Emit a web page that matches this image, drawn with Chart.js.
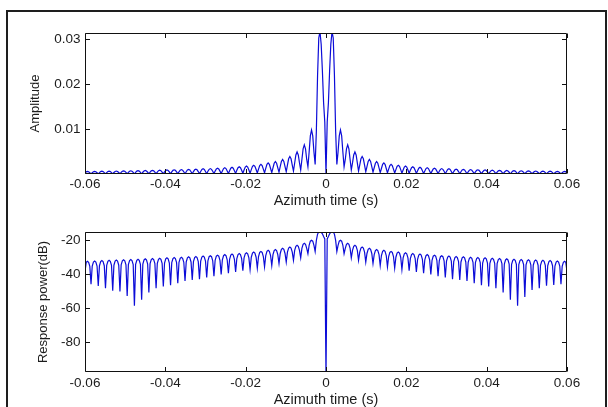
<!DOCTYPE html>
<html><head><meta charset="utf-8">
<script src="https://cdn.jsdelivr.net/npm/chart.js@4.4.1/dist/chart.umd.min.js"></script>
<style>
html,body{margin:0;padding:0;background:#fff;width:608px;height:407px;overflow:hidden;}
#frame{position:absolute;left:6px;top:10px;width:601px;height:420px;border:2px solid #1e1e1e;box-sizing:border-box;}
canvas{position:absolute;left:0;}
#c1{top:0px;}
#c2{top:210px;}
</style></head><body>
<div id="frame"></div>
<canvas id="c1" width="608" height="210"></canvas>
<canvas id="c2" width="608" height="200"></canvas>
<script>
// Azimuth time samples (s)
const azimuthTime = [
-0.0600,-0.0597,-0.0594,-0.0591,-0.0588,-0.0585,-0.0582,-0.0579,-0.0576,-0.0573,
-0.0570,-0.0567,-0.0564,-0.0561,-0.0558,-0.0555,-0.0552,-0.0549,-0.0546,-0.0543,
-0.0540,-0.0537,-0.0534,-0.0531,-0.0528,-0.0525,-0.0522,-0.0519,-0.0516,-0.0513,
-0.0510,-0.0507,-0.0504,-0.0501,-0.0498,-0.0495,-0.0492,-0.0489,-0.0486,-0.0483,
-0.0480,-0.0477,-0.0474,-0.0471,-0.0468,-0.0465,-0.0462,-0.0459,-0.0456,-0.0453,
-0.0450,-0.0447,-0.0444,-0.0441,-0.0438,-0.0435,-0.0432,-0.0429,-0.0426,-0.0423,
-0.0420,-0.0417,-0.0414,-0.0411,-0.0408,-0.0405,-0.0402,-0.0399,-0.0396,-0.0393,
-0.0390,-0.0387,-0.0384,-0.0381,-0.0378,-0.0375,-0.0372,-0.0369,-0.0366,-0.0363,
-0.0360,-0.0357,-0.0354,-0.0351,-0.0348,-0.0345,-0.0342,-0.0339,-0.0336,-0.0333,
-0.0330,-0.0327,-0.0324,-0.0321,-0.0318,-0.0315,-0.0312,-0.0309,-0.0306,-0.0303,
-0.0300,-0.0297,-0.0294,-0.0291,-0.0288,-0.0285,-0.0282,-0.0279,-0.0276,-0.0273,
-0.0270,-0.0267,-0.0264,-0.0261,-0.0258,-0.0255,-0.0252,-0.0249,-0.0246,-0.0243,
-0.0240,-0.0237,-0.0234,-0.0231,-0.0228,-0.0225,-0.0222,-0.0219,-0.0216,-0.0213,
-0.0210,-0.0207,-0.0204,-0.0201,-0.0198,-0.0195,-0.0192,-0.0189,-0.0186,-0.0183,
-0.0180,-0.0177,-0.0174,-0.0171,-0.0168,-0.0165,-0.0162,-0.0159,-0.0156,-0.0153,
-0.0150,-0.0147,-0.0144,-0.0141,-0.0138,-0.0135,-0.0132,-0.0129,-0.0126,-0.0123,
-0.0120,-0.0117,-0.0114,-0.0111,-0.0108,-0.0105,-0.0102,-0.0099,-0.0096,-0.0093,
-0.0090,-0.0087,-0.0084,-0.0081,-0.0078,-0.0075,-0.0072,-0.0069,-0.0066,-0.0063,
-0.0060,-0.0057,-0.0054,-0.0051,-0.0048,-0.0045,-0.0042,-0.0039,-0.0036,-0.0033,
-0.0030,-0.0027,-0.0024,-0.0021,-0.0018,-0.0015,-0.0012,-0.0009,-0.0006,-0.0003,
0.0000,0.0003,0.0006,0.0009,0.0012,0.0015,0.0018,0.0021,0.0024,0.0027,
0.0030,0.0033,0.0036,0.0039,0.0042,0.0045,0.0048,0.0051,0.0054,0.0057,
0.0060,0.0063,0.0066,0.0069,0.0072,0.0075,0.0078,0.0081,0.0084,0.0087,
0.0090,0.0093,0.0096,0.0099,0.0102,0.0105,0.0108,0.0111,0.0114,0.0117,
0.0120,0.0123,0.0126,0.0129,0.0132,0.0135,0.0138,0.0141,0.0144,0.0147,
0.0150,0.0153,0.0156,0.0159,0.0162,0.0165,0.0168,0.0171,0.0174,0.0177,
0.0180,0.0183,0.0186,0.0189,0.0192,0.0195,0.0198,0.0201,0.0204,0.0207,
0.0210,0.0213,0.0216,0.0219,0.0222,0.0225,0.0228,0.0231,0.0234,0.0237,
0.0240,0.0243,0.0246,0.0249,0.0252,0.0255,0.0258,0.0261,0.0264,0.0267,
0.0270,0.0273,0.0276,0.0279,0.0282,0.0285,0.0288,0.0291,0.0294,0.0297,
0.0300,0.0303,0.0306,0.0309,0.0312,0.0315,0.0318,0.0321,0.0324,0.0327,
0.0330,0.0333,0.0336,0.0339,0.0342,0.0345,0.0348,0.0351,0.0354,0.0357,
0.0360,0.0363,0.0366,0.0369,0.0372,0.0375,0.0378,0.0381,0.0384,0.0387,
0.0390,0.0393,0.0396,0.0399,0.0402,0.0405,0.0408,0.0411,0.0414,0.0417,
0.0420,0.0423,0.0426,0.0429,0.0432,0.0435,0.0438,0.0441,0.0444,0.0447,
0.0450,0.0453,0.0456,0.0459,0.0462,0.0465,0.0468,0.0471,0.0474,0.0477,
0.0480,0.0483,0.0486,0.0489,0.0492,0.0495,0.0498,0.0501,0.0504,0.0507,
0.0510,0.0513,0.0516,0.0519,0.0522,0.0525,0.0528,0.0531,0.0534,0.0537,
0.0540,0.0543,0.0546,0.0549,0.0552,0.0555,0.0558,0.0561,0.0564,0.0567,
0.0570,0.0573,0.0576,0.0579,0.0582,0.0585,0.0588,0.0591,0.0594,0.0597,
0.0600
];

// Top panel: amplitude
const amplitude = [
0.00014,0.00049,0.00056,0.00049,0.00028,
0.000025,
0.00029,0.00051,0.00059,0.00051,0.00029,0.00002,
0.00031,0.00053,0.00062,0.00053,0.00031,0.000015,
0.00032,0.00056,0.00065,0.00056,0.00032,0.00001,
0.00033,0.00057,0.00066,0.00057,0.00033,0.00001,
0.00035,0.00060,0.00069,0.00060,0.00035,0.000005,
0.00035,0.00061,0.00071,0.00061,0.00035,0.0000014,
0.00037,0.00064,0.00074,0.00064,0.00037,0.000003,
0.00039,0.00067,0.00078,0.00067,0.00039,0.000008,
0.00041,0.00070,0.00081,0.00070,0.00041,0.000015,
0.00043,0.00074,0.00085,0.00074,0.00043,0.000019,
0.00045,0.00077,0.00089,0.00077,0.00045,0.000022,
0.00047,0.00081,0.00093,0.00081,0.00047,0.000029,
0.00049,0.00085,0.00098,0.00085,0.00049,0.00004,
0.00051,0.00089,0.00102,0.00089,0.00051,0.000045,
0.00054,0.00093,0.00107,0.00093,0.00054,0.00005,
0.00057,0.00099,0.00115,0.00099,0.00057,0.000063,
0.00060,0.00104,0.00120,0.00104,0.00060,0.000076,
0.00064,0.00112,0.00129,0.00112,0.00064,0.000095,
0.00069,0.00120,0.00138,0.00120,0.00069,0.000112,
0.00074,0.00128,0.00148,0.00128,0.00074,0.000135,
0.00081,0.00140,0.00162,0.00140,0.00081,0.00016,
0.00089,0.00154,0.00178,0.00154,0.00089,0.00019,
0.00098,0.00169,0.00195,0.00169,0.00098,0.00022,
0.00107,0.00185,0.00214,0.00185,0.00107,0.00026,
0.00123,0.00213,0.00246,0.00213,0.00123,0.00032,
0.00138,0.00239,0.00275,0.00239,0.00138,0.00042,
0.00162,0.00280,0.00324,0.00280,0.00162,0.0005,
0.00195,0.00337,0.00389,0.00337,0.00195,0.00065,
0.00245,0.00424,0.00490,0.00424,0.00245,0.0009,
0.00323,0.00559,0.00646,0.00559,0.00323,0.0016,
0.00489,0.00846,0.00977,0.00846,0.00489,0.0021,
0.0095,0.0219,0.0302,0.0316,0.0288,0.0229,0.0158,0.0115,
0,
0.0115,0.0158,0.0229,0.0288,0.0316,0.0302,0.0219,0.0095,
0.0021,0.00489,0.00846,0.00977,0.00846,0.00489,
0.0016,0.00323,0.00559,0.00646,0.00559,0.00323,
0.0009,0.00245,0.00424,0.00490,0.00424,0.00245,
0.00065,0.00195,0.00337,0.00389,0.00337,0.00195,
0.0005,0.00162,0.00280,0.00324,0.00280,0.00162,
0.00042,0.00138,0.00239,0.00275,0.00239,0.00138,
0.00032,0.00123,0.00213,0.00246,0.00213,0.00123,
0.00026,0.00107,0.00185,0.00214,0.00185,0.00107,
0.00022,0.00098,0.00169,0.00195,0.00169,0.00098,
0.00019,0.00089,0.00154,0.00178,0.00154,0.00089,
0.00016,0.00081,0.00140,0.00162,0.00140,0.00081,
0.000135,0.00074,0.00128,0.00148,0.00128,0.00074,
0.000112,0.00069,0.00120,0.00138,0.00120,0.00069,
0.000095,0.00064,0.00112,0.00129,0.00112,0.00064,
0.000076,0.00060,0.00104,0.00120,0.00104,0.00060,
0.000063,0.00057,0.00099,0.00115,0.00099,0.00057,
0.00005,0.00054,0.00093,0.00107,0.00093,0.00054,
0.000045,0.00051,0.00089,0.00102,0.00089,0.00051,
0.00004,0.00049,0.00085,0.00098,0.00085,0.00049,
0.000029,0.00047,0.00081,0.00093,0.00081,0.00047,
0.000022,0.00045,0.00077,0.00089,0.00077,0.00045,
0.000019,0.00043,0.00074,0.00085,0.00074,0.00043,
0.000015,0.00041,0.00070,0.00081,0.00070,0.00041,
0.000008,0.00039,0.00067,0.00078,0.00067,0.00039,
0.000003,0.00037,0.00064,0.00074,0.00064,0.00037,
0.0000014,0.00035,0.00061,0.00071,0.00061,0.00035,
0.0000045,0.00035,0.00060,0.00069,0.00060,0.00035,
0.000012,0.00033,0.00057,0.00066,0.00057,0.00033,
0.000015,0.00032,0.00056,0.00065,0.00056,0.00032,
0.000021,0.00031,0.00053,0.00062,0.00053,0.00031,
0.000023,0.00029,0.00051,0.00059,0.00051,0.00029,
0.000025,0.00028,0.00049,0.00056,0.00049,0.00014
];

// Bottom panel: response power (dB)
const responsePowerDb = [
-38.5,-33.1,-32.5,-33.1,-35.5,
-46.0,
-35.3,-32.9,-32.3,-32.9,-35.3,-47.0,
-35.1,-32.7,-32.1,-32.7,-35.1,-48.3,
-34.9,-32.5,-31.9,-32.5,-34.9,-49.8,
-34.8,-32.4,-31.8,-32.4,-34.8,-50.2,
-34.6,-32.2,-31.6,-32.2,-34.6,-52.8,
-34.5,-32.1,-31.5,-32.1,-34.5,-58.6,
-34.3,-31.9,-31.3,-31.9,-34.3,-55.0,
-34.1,-31.7,-31.1,-31.7,-34.1,-50.8,
-33.9,-31.5,-30.9,-31.5,-33.9,-48.3,
-33.7,-31.3,-30.7,-31.3,-33.7,-47.3,
-33.5,-31.1,-30.5,-31.1,-33.5,-46.5,
-33.3,-30.9,-30.3,-30.9,-33.3,-45.4,
-33.1,-30.7,-30.1,-30.7,-33.1,-44.0,
-32.9,-30.5,-29.9,-30.5,-32.9,-43.5,
-32.7,-30.3,-29.7,-30.3,-32.7,-43.0,
-32.4,-30.0,-29.4,-30.0,-32.4,-42.0,
-32.2,-29.8,-29.2,-29.8,-32.2,-41.2,
-31.9,-29.5,-28.9,-29.5,-31.9,-40.2,
-31.6,-29.2,-28.6,-29.2,-31.6,-39.5,
-31.3,-28.9,-28.3,-28.9,-31.3,-38.7,
-30.9,-28.5,-27.9,-28.5,-30.9,-38.0,
-30.5,-28.1,-27.5,-28.1,-30.5,-37.3,
-30.1,-27.7,-27.1,-27.7,-30.1,-36.5,
-29.7,-27.3,-26.7,-27.3,-29.7,-35.8,
-29.1,-26.7,-26.1,-26.7,-29.1,-35.0,
-28.6,-26.2,-25.6,-26.2,-28.6,-33.8,
-27.9,-25.5,-24.9,-25.5,-27.9,-33.0,
-27.1,-24.7,-24.1,-24.7,-27.1,-31.9,
-26.1,-23.7,-23.1,-23.7,-26.1,-30.5,
-24.9,-22.5,-21.9,-22.5,-24.9,-28.0,
-23.1,-20.7,-20.1,-20.7,-23.1,-26.7,
-20.2,-16.6,-15.2,-15.0,-15.4,-16.4,-18.0,-19.4,
-100.0,
-19.4,-18.0,-16.4,-15.4,-15.0,-15.2,-16.6,-20.2,
-26.7,-23.1,-20.7,-20.1,-20.7,-23.1,
-28.0,-24.9,-22.5,-21.9,-22.5,-24.9,
-30.5,-26.1,-23.7,-23.1,-23.7,-26.1,
-31.9,-27.1,-24.7,-24.1,-24.7,-27.1,
-33.0,-27.9,-25.5,-24.9,-25.5,-27.9,
-33.8,-28.6,-26.2,-25.6,-26.2,-28.6,
-35.0,-29.1,-26.7,-26.1,-26.7,-29.1,
-35.8,-29.7,-27.3,-26.7,-27.3,-29.7,
-36.5,-30.1,-27.7,-27.1,-27.7,-30.1,
-37.3,-30.5,-28.1,-27.5,-28.1,-30.5,
-38.0,-30.9,-28.5,-27.9,-28.5,-30.9,
-38.7,-31.3,-28.9,-28.3,-28.9,-31.3,
-39.5,-31.6,-29.2,-28.6,-29.2,-31.6,
-40.2,-31.9,-29.5,-28.9,-29.5,-31.9,
-41.2,-32.2,-29.8,-29.2,-29.8,-32.2,
-42.0,-32.4,-30.0,-29.4,-30.0,-32.4,
-43.0,-32.7,-30.3,-29.7,-30.3,-32.7,
-43.5,-32.9,-30.5,-29.9,-30.5,-32.9,
-44.0,-33.1,-30.7,-30.1,-30.7,-33.1,
-45.4,-33.3,-30.9,-30.3,-30.9,-33.3,
-46.5,-33.5,-31.1,-30.5,-31.1,-33.5,
-47.3,-33.7,-31.3,-30.7,-31.3,-33.7,
-48.3,-33.9,-31.5,-30.9,-31.5,-33.9,
-50.8,-34.1,-31.7,-31.1,-31.7,-34.1,
-55.0,-34.3,-31.9,-31.3,-31.9,-34.3,
-58.6,-34.5,-32.1,-31.5,-32.1,-34.5,
-53.5,-34.6,-32.2,-31.6,-32.2,-34.6,
-49.3,-34.8,-32.4,-31.8,-32.4,-34.8,
-48.3,-34.9,-32.5,-31.9,-32.5,-34.9,
-46.8,-35.1,-32.7,-32.1,-32.7,-35.1,
-46.4,-35.3,-32.9,-32.3,-32.9,-35.3,
-46.0,-35.5,-33.1,-32.5,-33.1,-38.5
];

// Tick values and labels
const xTickValues = [-0.06, -0.04, -0.02, 0, 0.02, 0.04, 0.06];
const xTickLabels = ['-0.06', '-0.04', '-0.02', '0', '0.02', '0.04', '0.06'];
const ampTickValues = [0.01, 0.02, 0.03];
const ampTickLabels = ['0.01', '0.02', '0.03'];
const dbTickValues = [-80, -60, -40, -20];
const dbTickLabels = ['-80', '-60', '-40', '-20'];

const FONT = '"Liberation Sans", Arial, Helvetica, sans-serif';
const TXT = '#1c1c1c';
const LINE = '#0c0cd8';
const AXIS = '#111';

const matlabAxes = {
  id: 'matlabAxes',
  afterDraw(chart) {
    const { ctx, chartArea: a } = chart;
    const xs = chart.scales.x, ys = chart.scales.y;
    const L = 4.5;
    const left = Math.round(a.left) + 0.5, right = Math.round(a.right) - 0.5;
    const top = Math.round(a.top) + 0.5, bottom = Math.round(a.bottom) - 0.5;
    ctx.save();
    ctx.strokeStyle = AXIS;
    ctx.lineWidth = 1;
    ctx.beginPath();
    xs.ticks.forEach(t => {
      const px = Math.round(xs.getPixelForValue(t.value)) + 0.5;
      ctx.moveTo(px, bottom); ctx.lineTo(px, bottom - L);
      ctx.moveTo(px, top); ctx.lineTo(px, top + L);
    });
    ys.ticks.forEach(t => {
      const py = Math.round(ys.getPixelForValue(t.value)) + 0.5;
      ctx.moveTo(left, py); ctx.lineTo(left + L, py);
      ctx.moveTo(right, py); ctx.lineTo(right - L, py);
    });
    ctx.rect(left, top, right - left, bottom - top);
    ctx.stroke();
    ctx.restore();
  }
};

function makePanel(id, values, yMin, yMax, yTicks, yLabels, yTitle, o) {
  const pts = azimuthTime.map((t, i) => ({ x: t, y: values[i] }));
  return new Chart(document.getElementById(id), {
    type: 'line',
    data: { datasets: [{ data: pts, borderColor: LINE, borderWidth: 1.2, pointRadius: 0, tension: 0, fill: false }] },
    options: {
      responsive: false, animation: false, events: [],
      layout: { padding: { left: 0, top: o.top, right: 41, bottom: 0 } },
      plugins: { legend: { display: false }, tooltip: { enabled: false } },
      scales: {
        x: {
          type: 'linear', min: -0.06, max: 0.06, bounds: 'data',
          afterBuildTicks: s => { s.ticks = xTickValues.map(v => ({ value: v })); },
          afterFit: s => { s.height = o.xh; },
          grid: { display: false, drawTicks: false }, border: { display: false },
          ticks: { padding: o.xpad, maxRotation: 0, autoSkip: false, color: TXT,
                   font: { family: FONT, size: 13.5 }, callback: (v, i) => xTickLabels[i] },
          title: { display: true, text: 'Azimuth time (s)', color: TXT,
                   font: { family: FONT, size: 14.5 }, padding: { top: 0, bottom: o.tpad } }
        },
        y: {
          type: 'linear', min: yMin, max: yMax, bounds: 'data',
          afterBuildTicks: s => { s.ticks = yTicks.map(v => ({ value: v })); },
          afterFit: s => { s.width = 85; },
          grid: { display: false, drawTicks: false }, border: { display: false },
          ticks: { padding: 4.5, color: TXT, font: { family: FONT, size: 13.5 },
                   callback: (v, i) => yLabels[i] },
          title: { display: true, text: yTitle, color: TXT,
                   font: { family: FONT, size: 13 }, padding: { top: o.ytpad, bottom: 0 } }
        }
      }
    },
    plugins: [matlabAxes]
  });
}

makePanel('c1', amplitude, 0, 0.0313, ampTickValues, ampTickLabels, 'Amplitude',
  { top: 33, xh: 36, xpad: 2.5, tpad: 0, ytpad: 28 });
makePanel('c2', responsePowerDb, -97.5, -15.3, dbTickValues, dbTickLabels, 'Response power(dB)',
  { top: 22, xh: 38, xpad: 3.5, tpad: 1.3, ytpad: 36 });
</script>
</body></html>
